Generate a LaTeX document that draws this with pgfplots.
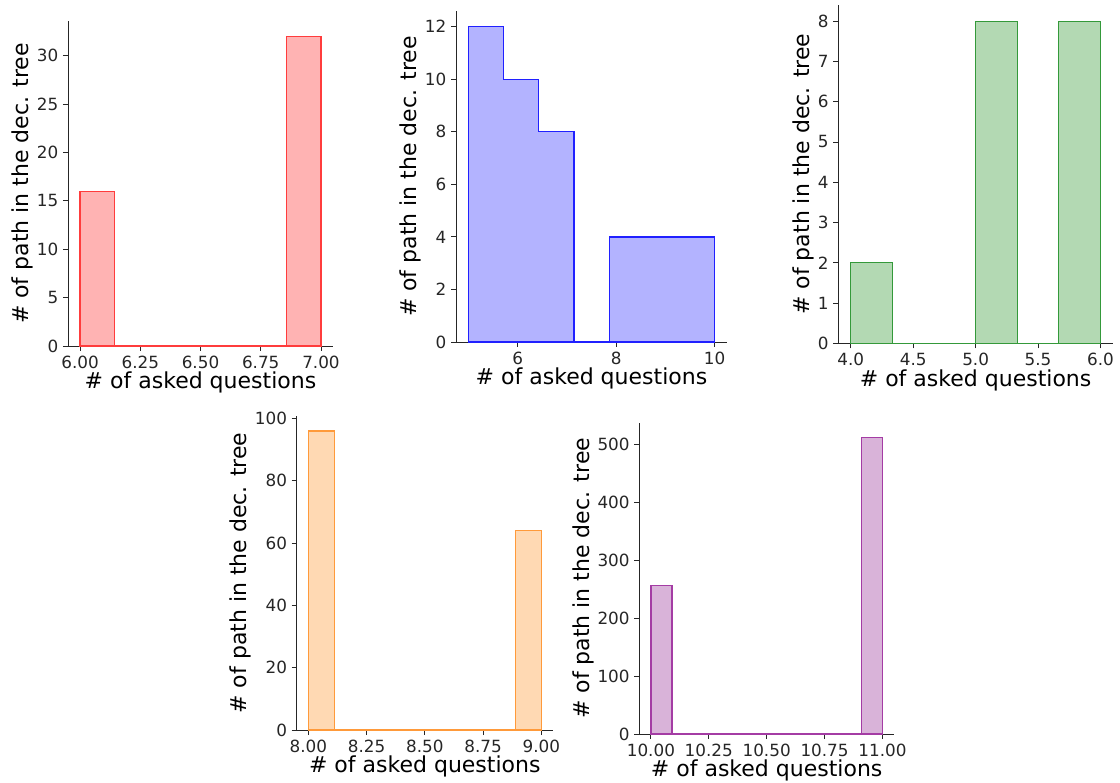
\documentclass[border=0pt]{standalone}
\usepackage{fontspec}
\setmainfont{DejaVu Sans}
\usepackage{pgfplots}
\pgfplotsset{compat=1.18}

\definecolor{redfill}{HTML}{FFB3B3}
\definecolor{rededge}{HTML}{FF3C3C}
\definecolor{bluefill}{HTML}{B3B3FF}
\definecolor{blueedge}{HTML}{2020FF}
\definecolor{greenfill}{HTML}{B3D9B3}
\definecolor{greenedge}{HTML}{34993A}
\definecolor{orangefill}{HTML}{FFD9B3}
\definecolor{orangeedge}{HTML}{FF9A3A}
\definecolor{purplefill}{HTML}{D9B3D9}
\definecolor{purpleedge}{HTML}{A43CA4}
\definecolor{axisgray}{HTML}{262626}

\pgfplotsset{
  hist/.style={
    scale only axis,
    anchor=south west,
    axis x line*=bottom,
    axis y line*=left,
    axis line style={line width=0.65pt, axisgray},
    every tick/.style={line width=0.65pt, axisgray},
    tick align=outside,
    major tick length=3.75pt,
    tick label style={font=\fontsize{12.6}{14}\selectfont, text=axisgray},
    label style={font=\fontsize{16.5}{19}\selectfont, text=black},
    xlabel={\# of asked questions},
    ylabel={\# of path in the dec. tree},
    xlabel style={yshift=4pt},
    ylabel style={yshift=-4pt},
    /pgf/number format/assume math mode=true,
    scaled ticks=false,
    ymin=0,
    clip=false,
  },
  barstyle/.style={ybar interval, line width=0.9pt},
}

\begin{document}
\begin{tikzpicture}
\useasboundingbox (0,0) rectangle (840pt,586.5pt);

% Plot 1 (red)
\begin{axis}[hist, at={(51pt,327pt)}, width=198.75pt, height=243.75pt,
  xmin=5.95, xmax=7.05, ymax=33.6,
  xtick={6,6.25,6.5,6.75,7}, ytick={0,5,10,15,20,25,30},
  xticklabel style={/pgf/number format/.cd, fixed, fixed zerofill, precision=2}]
\addplot[barstyle, fill=redfill, draw=rededge] coordinates {
 (6,16) (6.142857,0) (6.285714,0) (6.428571,0) (6.571429,0) (6.714286,0) (6.857143,32) (7,32)};
\end{axis}

% Plot 2 (blue, step filled)
\begin{axis}[hist, at={(342pt,330pt)}, width=203.25pt, height=248.25pt,
  xmin=4.75, xmax=10.25, ymax=12.6,
  xtick={6,8,10}, ytick={0,2,4,6,8,10,12}]
\addplot[const plot, fill=bluefill, draw=blueedge, line width=0.9pt] coordinates {
 (5,12) (5.714286,10) (6.428571,8) (7.142857,0) (7.857143,4) (8.571429,4) (9.285714,4) (10,4)} \closedcycle;
\end{axis}

% Plot 3 (green)
\begin{axis}[hist, at={(628.7pt,329pt)}, width=206pt, height=253.7pt,
  xmin=3.9, xmax=6.1, ymax=8.4,
  xtick={4,4.5,5,5.5,6}, ytick={0,1,2,3,4,5,6,7,8},
  xticklabel style={/pgf/number format/.cd, fixed, fixed zerofill, precision=1}]
\addplot[barstyle, fill=greenfill, draw=greenedge] coordinates {
 (4,2) (4.333333,0) (4.666667,0) (5,8) (5.333333,0) (5.666667,8) (6,8)};
\end{axis}

% Plot 4 (orange)
\begin{axis}[hist, at={(222.5pt,39pt)}, width=192.2pt, height=235.5pt,
  xmin=7.95, xmax=9.05, ymax=100.8,
  xtick={8,8.25,8.5,8.75,9}, ytick={0,20,40,60,80,100},
  xticklabel style={/pgf/number format/.cd, fixed, fixed zerofill, precision=2}]
\addplot[barstyle, fill=orangefill, draw=orangeedge] coordinates {
 (8,96) (8.111111,0) (8.222222,0) (8.333333,0) (8.444444,0) (8.555556,0) (8.666667,0) (8.777778,0) (8.888889,64) (9,64)};
\end{axis}

% Plot 5 (purple)
\begin{axis}[hist, at={(479.5pt,36pt)}, width=191pt, height=233.5pt,
  xmin=9.95, xmax=11.05, ymax=537.6,
  xtick={10,10.25,10.5,10.75,11}, ytick={0,100,200,300,400,500},
  xticklabel style={/pgf/number format/.cd, fixed, fixed zerofill, precision=2}]
\addplot[barstyle, fill=purplefill, draw=purpleedge] coordinates {
 (10,256) (10.090909,0) (10.181818,0) (10.272727,0) (10.363636,0) (10.454545,0) (10.545455,0) (10.636364,0) (10.727273,0) (10.818182,0) (10.909091,512) (11,512)};
\end{axis}
\end{tikzpicture}
\end{document}
